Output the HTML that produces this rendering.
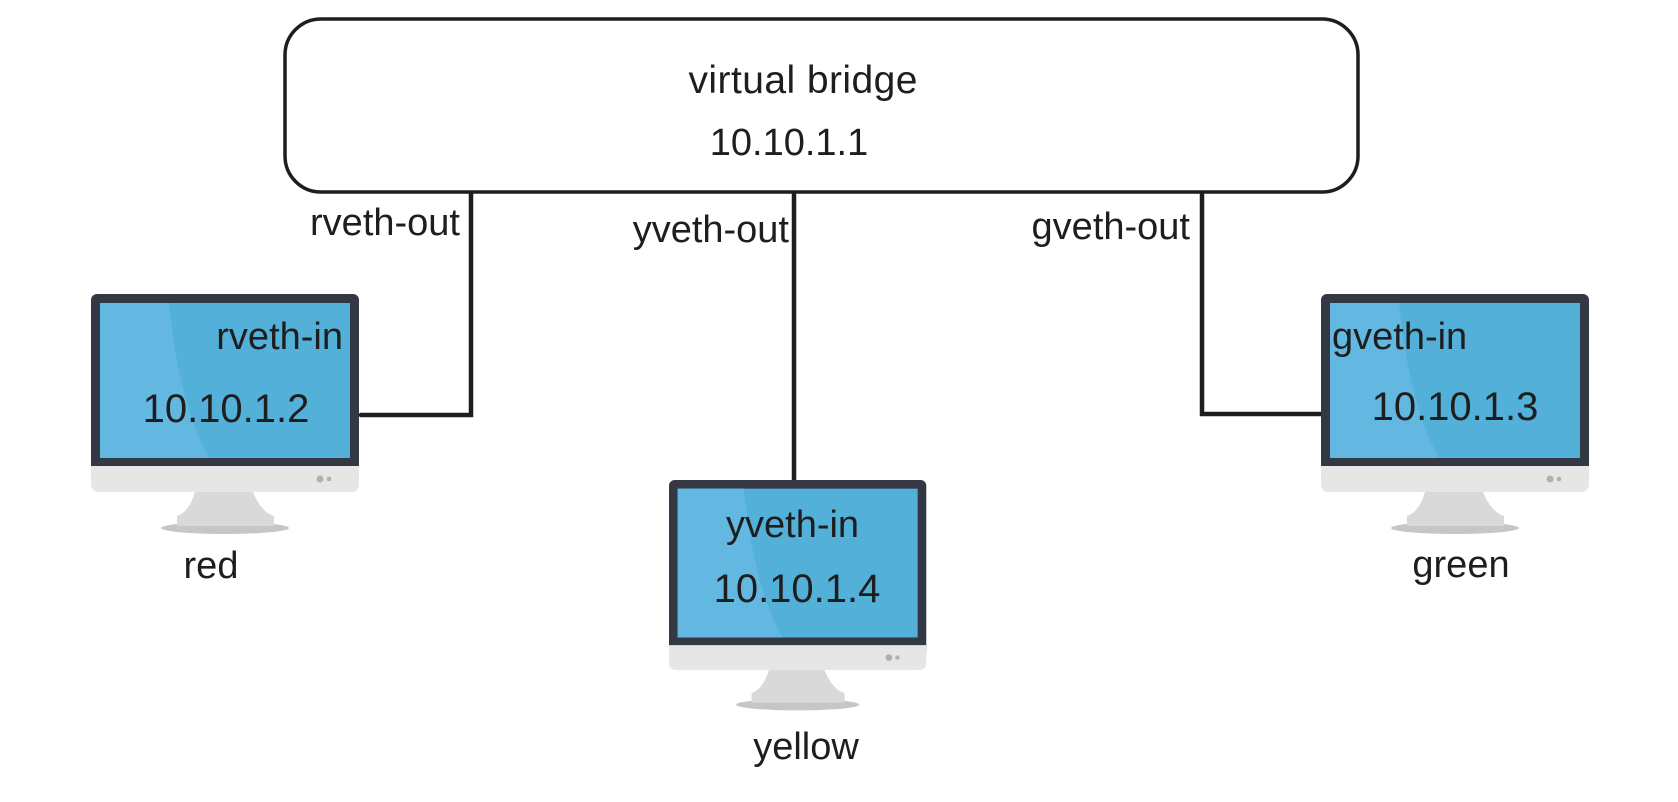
<!DOCTYPE html>
<html><head><meta charset="utf-8"><style>
html,body{margin:0;padding:0;background:#fff;}
svg{display:block;}
text{font-family:"Liberation Sans",Arial,sans-serif;fill:#1e1e1e;}
</style></head><body>
<svg width="1678" height="802" viewBox="0 0 1678 802" xmlns="http://www.w3.org/2000/svg">
<defs>
<g id="mon">
  <rect x="0" y="0" width="268" height="185" rx="6" fill="#333844"/>
  <path d="M0 172 H268 V190 Q268 198 260 198 H8 Q0 198 0 190 Z" fill="#e6e6e6"/>
  <rect x="9" y="9" width="250" height="155" fill="#53b0d8"/>
  <path d="M9 9 H78 Q88 110 118 164 H9 Z" fill="#63b8e2"/>
  <circle cx="229" cy="185" r="3.5" fill="#b0b0b0"/>
  <circle cx="238" cy="185" r="2.3" fill="#b0b0b0"/>
  <ellipse cx="134" cy="234" rx="64" ry="6" fill="#c6c6c6"/>
  <path d="M104 198 H162 Q170 218 183 222 V232 H86 V222 Q98 218 104 198 Z" fill="#d9d9d9"/>
</g>
</defs>
<rect x="285" y="19" width="1073" height="173" rx="36" fill="#fff" stroke="#1e1e1e" stroke-width="3.5"/>
<text x="803" y="93" font-size="39" text-anchor="middle" textLength="229">virtual bridge</text>
<text x="789" y="155" font-size="38" text-anchor="middle">10.10.1.1</text>
<g stroke="#1e1e1e" stroke-width="4.5" fill="none" stroke-linecap="round">
  <path d="M471 193 V415 H361"/>
  <path d="M794 193 V486"/>
  <path d="M1202 193 V414 H1321"/>
</g>
<text x="460" y="235" font-size="38" text-anchor="end">rveth-out</text>
<text x="789" y="242" font-size="38" text-anchor="end">yveth-out</text>
<text x="1190" y="239" font-size="38" text-anchor="end">gveth-out</text>
<use href="#mon" transform="translate(91,294)"/>
<use href="#mon" transform="translate(669,480) scale(0.96)"/>
<use href="#mon" transform="translate(1321,294)"/>
<text x="343" y="349" font-size="38" text-anchor="end">rveth-in</text>
<text x="226" y="422" font-size="40" text-anchor="middle">10.10.1.2</text>
<text x="211" y="578" font-size="38" text-anchor="middle">red</text>
<text x="726" y="537" font-size="38">yveth-in</text>
<text x="797" y="602" font-size="40" text-anchor="middle">10.10.1.4</text>
<text x="806" y="759" font-size="38" text-anchor="middle">yellow</text>
<text x="1332" y="349" font-size="38">gveth-in</text>
<text x="1455" y="420" font-size="40" text-anchor="middle">10.10.1.3</text>
<text x="1461" y="577" font-size="38" text-anchor="middle">green</text>
</svg>
</body></html>
